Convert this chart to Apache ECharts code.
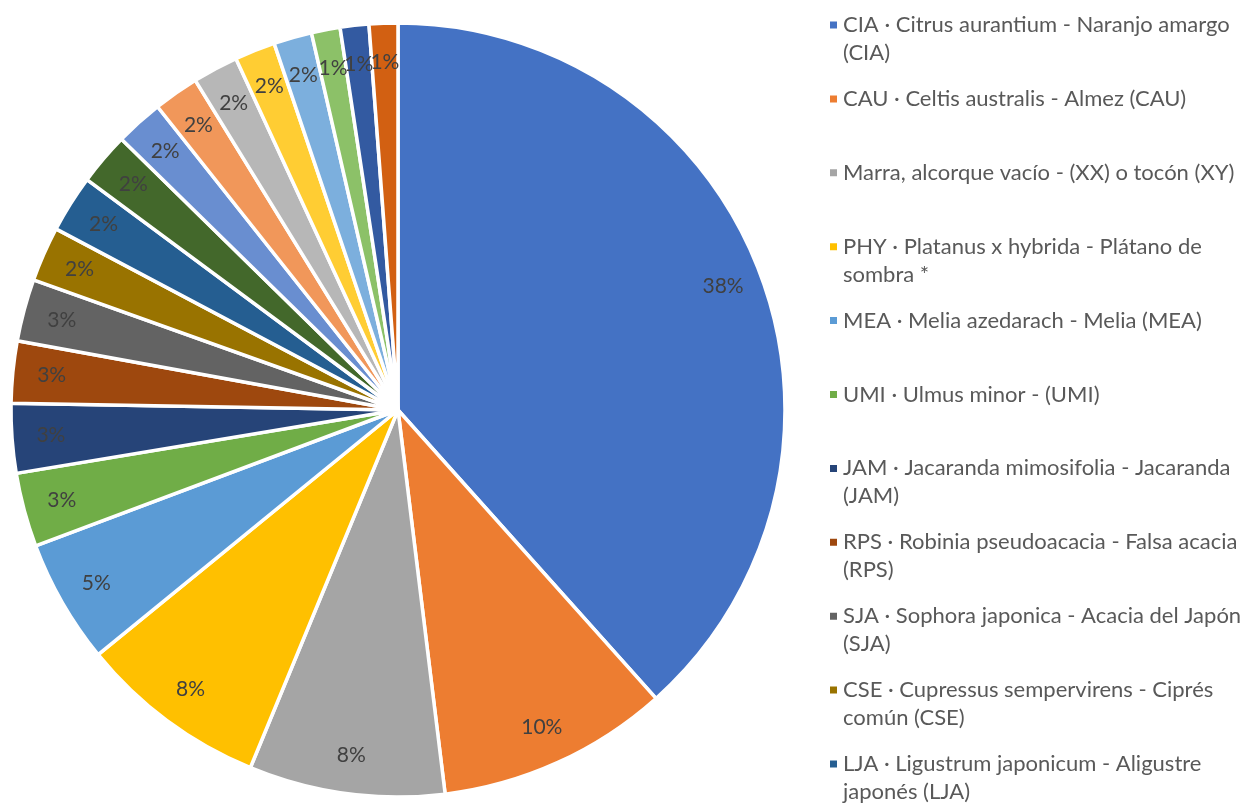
<!DOCTYPE html>
<html>
<head>
<meta charset="utf-8">
<script src="https://cdn.jsdelivr.net/npm/echarts@6/dist/echarts.min.js"></script>
<style>
  html, body { margin: 0; padding: 0; background: #ffffff; }
  #chart { width: 1245px; height: 804px; }
</style>
</head>
<body>
<div id="chart"></div>
<script>
// Tree inventory by species (number of trees)
const categories = [
  'CIA · Citrus aurantium - Naranjo amargo\n(CIA)',
  'CAU · Celtis australis - Almez (CAU)',
  'Marra, alcorque vacío - (XX) o tocón (XY)',
  'PHY · Platanus x hybrida - Plátano de\nsombra *',
  'MEA · Melia azedarach - Melia (MEA)',
  'UMI · Ulmus minor - (UMI)',
  'JAM · Jacaranda mimosifolia - Jacaranda\n(JAM)',
  'RPS · Robinia pseudoacacia - Falsa acacia\n(RPS)',
  'SJA · Sophora japonica - Acacia del Japón\n(SJA)',
  'CSE · Cupressus sempervirens - Ciprés\ncomún (CSE)',
  'LJA · Ligustrum japonicum - Aligustre\njaponés (LJA)',
  'MGR · Magnolia grandiflora - Magnolio (MGR)',
  'PNI · Populus nigra - Chopo (PNI)',
  'FAN · Fraxinus angustifolia - Fresno (FAN)',
  'PPI · Pinus pinea - Pino piñonero (PPI)',
  'TTI · Tipuana tipu - Tipuana (TTI)',
  'MAL · Morus alba - Morera (MAL)',
  'BPO · Brachychiton populneus - Braquiquito (BPO)',
  'WRO · Washingtonia robusta - Washingtonia (WRO)',
  'LNO · Laurus nobilis - Laurel (LNO)'
];
const counts = [385, 97, 82, 79, 52, 31, 29, 26, 26, 23, 24, 22, 20, 19, 19, 17, 16, 12, 12, 12];
const colors = [
  '#4472C4', '#ED7D31', '#A5A5A5', '#FFC000', '#5B9BD5', '#70AD47',
  '#264478', '#9E480E', '#636363', '#997300', '#255E91', '#43682B',
  '#698ED0', '#F1975A', '#B7B7B7', '#FFCD33', '#7CAFDD', '#8CC168',
  '#335AA1', '#D26012'
];
const legendShown = 11;

const FONT = 'Lato';
const center = [398, 410];
const R = 387;

const seriesData = categories.map((name, i) => ({ name, value: counts[i] }));

// One legend block per entry so every entry keeps the same vertical pitch.
// Wrapped entries get an empty leading line so the marker sits on the first line.
const LH = 28;
const legends = categories.slice(0, legendShown).map((name, i) => {
  const twoLine = name.indexOf('\n') >= 0;
  const lineC = 25 + 73.9 * i;
  return {
    orient: 'vertical',
    left: 828,
    top: lineC - (twoLine ? LH * 1.5 : LH / 2),
    padding: 0,
    itemWidth: 9,
    itemHeight: 9,
    icon: 'rect',
    data: [name],
    formatter: n => (n.indexOf('\n') >= 0 ? '\n' + n : n),
    textStyle: {
      color: '#595959',
      fontFamily: FONT,
      fontSize: 22,
      lineHeight: LH
    }
  };
});

const chart = echarts.init(document.getElementById('chart'), null, { renderer: 'canvas' });
chart.setOption({
  backgroundColor: '#ffffff',
  animation: false,
  color: colors,
  legend: legends,
  series: [
    {
      type: 'pie',
      center: center,
      radius: R,
      startAngle: 90,
      clockwise: true,
      avoidLabelOverlap: false,
      itemStyle: { borderColor: '#ffffff', borderWidth: 3.5 },
      label: { show: false },
      labelLine: { show: false },
      emphasis: { scale: false },
      data: seriesData
    },
    {
      // transparent ring that carries the percentage labels near the rim
      type: 'pie',
      center: center,
      radius: [303, R],
      startAngle: 90,
      clockwise: true,
      silent: true,
      avoidLabelOverlap: false,
      labelLayout: { hideOverlap: false },
      itemStyle: { color: 'rgba(0,0,0,0)', borderWidth: 0 },
      label: {
        show: true,
        position: 'inside',
        rotate: 0,
        color: '#404040',
        fontFamily: FONT,
        fontSize: 21,
        formatter: p => Math.round(p.percent) + '%'
      },
      labelLine: { show: false },
      emphasis: { disabled: true },
      data: seriesData
    }
  ]
});
</script>
</body>
</html>
